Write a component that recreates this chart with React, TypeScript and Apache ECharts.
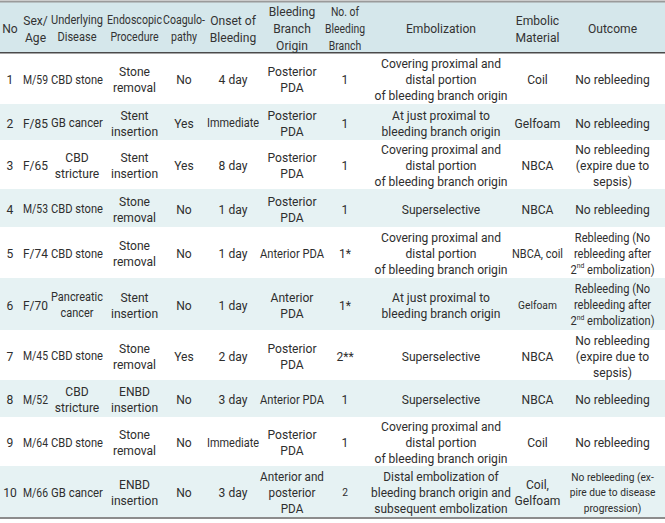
import React, { useEffect, useRef } from 'react';
import * as echarts from 'echarts';

const headers = [
  'No',
  'Sex/\nAge',
  'Underlying\nDisease',
  'Endoscopic\nProcedure',
  'Coagulo-\npathy',
  'Onset of\nBleeding',
  'Bleeding\nBranch\nOrigin',
  'No. of\nBleeding\nBranch',
  'Embolization',
  'Embolic\nMaterial',
  'Outcome',
];

const caseNo = ['1', '2', '3', '4', '5', '6', '7', '8', '9', '10'];
const sexAge = ['M/59', 'F/85', 'F/65', 'M/53', 'F/74', 'F/70', 'M/45', 'M/52', 'M/64', 'M/66'];
const disease = ['CBD stone', 'GB cancer', 'CBD\nstricture', 'CBD stone', 'CBD stone', 'Pancreatic\ncancer', 'CBD stone', 'CBD\nstricture', 'CBD stone', 'GB cancer'];
const procedure = ['Stone\nremoval', 'Stent\ninsertion', 'Stent\ninsertion', 'Stone\nremoval', 'Stone\nremoval', 'Stent\ninsertion', 'Stone\nremoval', 'ENBD\ninsertion', 'Stone\nremoval', 'ENBD\ninsertion'];
const coagulopathy = ['No', 'Yes', 'Yes', 'No', 'No', 'No', 'Yes', 'No', 'No', 'No'];
const onset = ['4 day', 'Immediate', '8 day', '1 day', '1 day', '1 day', '2 day', '3 day', 'Immediate', '3 day'];
const branchOrigin = ['Posterior\nPDA', 'Posterior\nPDA', 'Posterior\nPDA', 'Posterior\nPDA', 'Anterior PDA', 'Anterior\nPDA', 'Posterior\nPDA', 'Anterior PDA', 'Posterior\nPDA', 'Anterior and\nposterior\nPDA'];
const branchCount = ['1', '1', '1', '1', '1*', '1*', '2**', '1', '1', '2'];
const embolization = [
  'Covering proximal and\ndistal portion\nof bleeding branch origin',
  'At just proximal to\nbleeding branch origin',
  'Covering proximal and\ndistal portion\nof bleeding branch origin',
  'Superselective',
  'Covering proximal and\ndistal portion\nof bleeding branch origin',
  'At just proximal to\nbleeding branch origin',
  'Superselective',
  'Superselective',
  'Covering proximal and\ndistal portion\nof bleeding branch origin',
  'Distal embolization of\nbleeding branch origin and\nsubsequent embolization',
];
const material = ['Coil', 'Gelfoam', 'NBCA', 'NBCA', 'NBCA, coil', 'Gelfoam', 'NBCA', 'NBCA', 'Coil', 'Coil,\nGelfoam'];
const outcome = [
  'No rebleeding',
  'No rebleeding',
  'No rebleeding\n(expire due to\nsepsis)',
  'No rebleeding',
  'Rebleeding (No\nrebleeding after\n2{sup|nd} embolization)',
  'Rebleeding (No\nrebleeding after\n2{sup|nd} embolization)',
  'No rebleeding\n(expire due to\nsepsis)',
  'No rebleeding',
  'No rebleeding',
  'No rebleeding (ex-\npire due to disease\nprogression)',
];

// cells drawn in a smaller type: "row-col"
const smallCells = ['5-9', '9-7', '9-10'];

const columns = [caseNo, sexAge, disease, procedure, coagulopathy, onset, branchOrigin, branchCount, embolization, material, outcome];

// layout
const W = 665;
const H = 523;
const colX = [10, 35.5, 77, 134.5, 184, 233, 292, 345, 441, 537.5, 612.5];
const colBounds: [number, number][] = [
  [1, 20], [23, 48], [51, 105], [107, 162], [163, 206], [207, 260],
  [260, 325], [325, 369], [371, 512], [512, 565], [568, 658],
];
const headerTop = 2;
const rowEdges = [53, 104, 140, 189, 227, 278, 330, 380, 417, 466, 517];
const FONT = 'Roboto, "Noto Sans", sans-serif';
const TEXT = '#2e2e2e';
const BASE_SQUEEZE = 0.93;

let measureCtx: CanvasRenderingContext2D | null = null;
function textWidth(text: string, size: number) {
  if (!measureCtx) measureCtx = document.createElement('canvas').getContext('2d');
  if (!measureCtx) return 0;
  measureCtx.font = `${size}px Roboto`;
  return Math.max(...text.replace(/\{sup\|([^}]*)\}/g, '$1').split('\n').map((l) => measureCtx!.measureText(l).width));
}

function squeezeFor(text: string, size: number, c: number) {
  const half = Math.min(colX[c] - colBounds[c][0], colBounds[c][1] - colX[c]);
  const w = textWidth(text, size);
  if (!w) return BASE_SQUEEZE;
  return Math.min(BASE_SQUEEZE, (2 * half) / w);
}

function textEl(text: string, x: number, y: number, size: number, lh: number, c: number, fill: string) {
  return {
    type: 'text',
    x,
    y,
    scaleX: squeezeFor(text, size, c),
    silent: true,
    style: {
      text,
      fontSize: size,
      fontFamily: FONT,
      fill,
      align: 'center',
      verticalAlign: 'middle',
      textAlign: 'center',
      textVerticalAlign: 'middle',
      lineHeight: lh,
      rich: {
        sup: { fontSize: 8, fontFamily: FONT, fill, verticalAlign: 'top', lineHeight: 9 },
      },
    },
  };
}

function buildGraphic() {
  const els: any[] = [];
  els.push({ type: 'rect', shape: { x: 0, y: headerTop, width: W, height: rowEdges[0] - headerTop }, style: { fill: '#d5e7eb' }, silent: true });
  for (let r = 0; r < 10; r++) {
    if (r % 2 === 1) {
      els.push({ type: 'rect', shape: { x: 0, y: rowEdges[r], width: W, height: rowEdges[r + 1] - rowEdges[r] }, style: { fill: '#e6f2f3' }, silent: true });
    }
  }
  els.push({ type: 'rect', shape: { x: 0, y: 0.5, width: W, height: 2 }, style: { fill: '#9a9a9a' }, silent: true });
  els.push({ type: 'rect', shape: { x: 0, y: rowEdges[0] - 1, width: W, height: 1.6 }, style: { fill: '#4a4a4a' }, silent: true });
  els.push({ type: 'rect', shape: { x: 0, y: rowEdges[10], width: W, height: 2 }, style: { fill: '#8c8c8c' }, silent: true });

  const headerMid = (headerTop + rowEdges[0]) / 2;
  headers.forEach((h, c) => {
    els.push(textEl(h, colX[c], headerMid + 1, 13, 17, c, '#333'));
  });

  for (let r = 0; r < 10; r++) {
    const mid = (rowEdges[r] + rowEdges[r + 1]) / 2;
    columns.forEach((col, c) => {
      const small = smallCells.indexOf(r + '-' + c) >= 0;
      els.push(textEl(col[r], colX[c], mid + 1, small ? 11 : 13, small ? 15.5 : 16, c, TEXT));
    });
  }
  return els;
}

export default function App() {
  const ref = useRef<HTMLDivElement>(null);
  useEffect(() => {
    if (!ref.current) return;
    const chart = echarts.init(ref.current, undefined, { renderer: 'svg', width: W, height: H });
    chart.setOption({
      animation: false,
      backgroundColor: '#ffffff',
      graphic: { elements: buildGraphic() },
    });
    return () => chart.dispose();
  }, []);
  return <div ref={ref} style={{ position: 'absolute', left: 0, top: 0, width: W, height: H }} />;
}
